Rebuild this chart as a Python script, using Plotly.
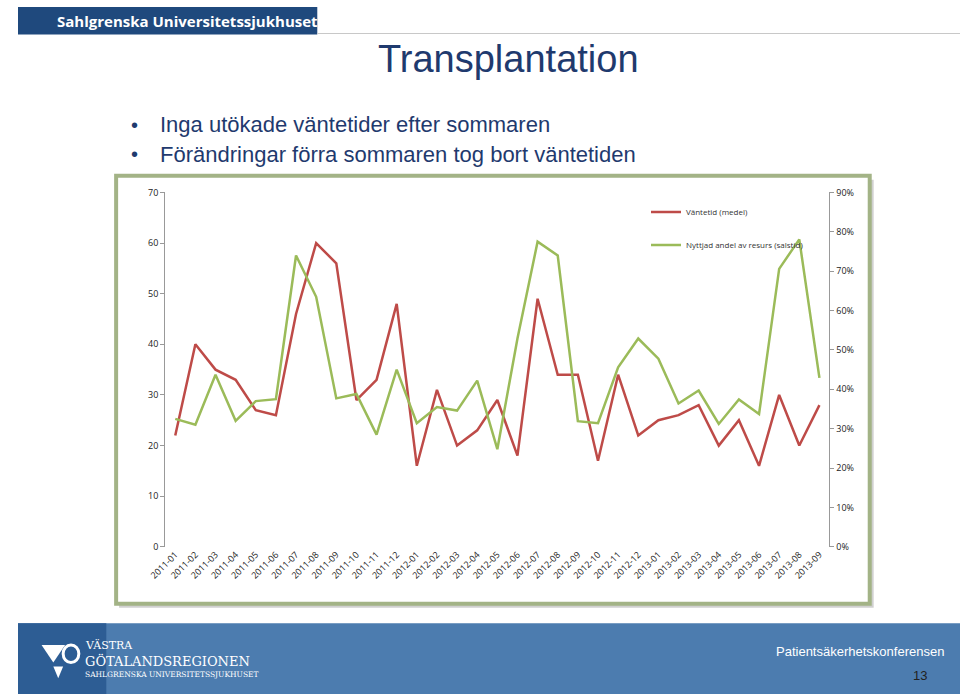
import plotly.graph_objects as go

W, H = 960, 700

months = ["2011-01", "2011-02", "2011-03", "2011-04", "2011-05", "2011-06", "2011-07", "2011-08",
          "2011-09", "2011-10", "2011-11", "2011-12", "2012-01", "2012-02", "2012-03", "2012-04",
          "2012-05", "2012-06", "2012-07", "2012-08", "2012-09", "2012-10", "2012-11", "2012-12",
          "2013-01", "2013-02", "2013-03", "2013-04", "2013-05", "2013-06", "2013-07", "2013-08",
          "2013-09"]
# mean waiting time (left axis)
wait_time = [22, 40, 35, 33, 27, 26, 46, 60, 56, 29, 33, 48, 16, 31, 20, 23, 29, 18,
             49, 34, 34, 17, 34, 22, 25, 26, 28, 20, 25, 16, 30, 20, 28]
# used share of theatre time, % (right axis)
used_share = [32.5, 31, 43.7, 32, 37, 37.5, 74, 63.5, 37.7, 38.8, 28.5, 45, 31.4, 35.5, 34.6,
              42.2, 24.8, 52.9, 77.5, 74, 31.9, 31.4, 45.6, 52.9, 47.8, 36.4, 39.7, 31.2,
              37.4, 33.7, 70.6, 78.1, 42.9]

title = "Transplantation"
bullets = ["Inga utökade väntetider efter sommaren", "Förändringar förra sommaren tog bort väntetiden"]

NAVY = "#1F3A6E"
RED = "#BE4B48"
GREEN = "#9BBB59"


def px_x(x):
    return x / W


def px_y(y):
    return 1 - y / H


fig = go.Figure()
fig.add_trace(go.Scatter(x=months, y=wait_time, mode="lines", name="Väntetid (medel)",
                         line=dict(color=RED, width=2.5), legendgroup="a"))
fig.add_trace(go.Scatter(x=months, y=used_share, mode="lines", name="Nyttjad andel av resurs (salstid)",
                         line=dict(color=GREEN, width=2.5), yaxis="y2", legendgroup="b"))

axis_font = dict(family="Open Sans, Liberation Sans", size=9, color="#222")
fig.update_layout(
    autosize=True, margin=dict(l=0, r=0, t=0, b=0),
    paper_bgcolor="white", plot_bgcolor="rgba(0,0,0,0)",
    xaxis=dict(domain=[px_x(150), px_x(827)], type="category", range=[-0.5, 32.5],
               tickangle=-45, tickfont=axis_font, showgrid=False, showline=False, ticks=""),
    yaxis=dict(domain=[px_y(550), px_y(189)], range=[0, 70], dtick=10, tickfont=axis_font,
               showgrid=False, showline=True, linecolor="#999", ticks="outside", ticklen=4,
               tickcolor="#999", zeroline=False),
    yaxis2=dict(overlaying="y", side="right", range=[0, 90], dtick=10, ticksuffix="%",
                tickfont=axis_font, showgrid=False, showline=True, linecolor="#999",
                ticks="outside", ticklen=4, tickcolor="#999", zeroline=False),
    legend=dict(x=px_x(640), y=px_y(194), xanchor="left", yanchor="top", tracegroupgap=14,
                font=dict(family="Open Sans, Liberation Sans", size=8, color="#333"),
                bgcolor="rgba(0,0,0,0)"),
    showlegend=True,
)

shapes = [
    # chart frame shadow + frame
    dict(type="rect", xref="paper", yref="paper", x0=px_x(103), x1=px_x(872), y0=px_y(612), y1=px_y(176),
         fillcolor="#d0d0d0", line_width=0, layer="below"),
    dict(type="rect", xref="paper", yref="paper", x0=px_x(100), x1=px_x(868), y0=px_y(608), y1=px_y(172),
         fillcolor="white", line=dict(color="#A3B386", width=4), layer="below"),
    # header bar
    dict(type="rect", xref="paper", yref="paper", x0=0, x1=px_x(305), y0=px_y(28), y1=1,
         fillcolor="#1F497D", line_width=0),
    dict(type="line", xref="paper", yref="paper", x0=px_x(305), x1=1, y0=px_y(27), y1=px_y(27),
         line=dict(color="#c8c8c8", width=1)),
    # footer bar
    dict(type="rect", xref="paper", yref="paper", x0=0, x1=1, y0=0, y1=px_y(628),
         fillcolor="#4C7CAF", line_width=0),
    dict(type="rect", xref="paper", yref="paper", x0=0, x1=px_x(90), y0=0, y1=px_y(628),
         fillcolor="#2D5D94", line_width=0),
    dict(type="path", xref="paper", yref="paper",
         path=f"M {px_x(24)} {px_y(650)} L {px_x(48)} {px_y(650)} L {px_x(36)} {px_y(668)} Z",
         fillcolor="white", line_width=0),
    dict(type="path", xref="paper", yref="paper",
         path=f"M {px_x(36)} {px_y(672)} L {px_x(46)} {px_y(672)} L {px_x(41)} {px_y(684)} Z",
         fillcolor="white", line_width=0),
    dict(type="circle", xref="paper", yref="paper", x0=px_x(46), x1=px_x(62), y0=px_y(668), y1=px_y(650),
         line=dict(color="white", width=3)),
]
fig.update_layout(shapes=shapes)

ann = [
    dict(x=px_x(38), y=px_y(14), text="<b>Sahlgrenska Universitetssjukhuset</b>", xanchor="left",
         font=dict(family="Open Sans, Liberation Sans", size=15, color="white")),
    dict(x=px_x(500), y=px_y(53), text=title,
         font=dict(family="Liberation Sans, Arial", size=38, color=NAVY)),
    dict(x=px_x(858), y=px_y(657), text="Patientsäkerhetskonferensen", xanchor="center",
         font=dict(family="Liberation Sans, Arial", size=13, color="white")),
    dict(x=px_x(928), y=px_y(681), text="13",
         font=dict(family="Liberation Sans, Arial", size=13, color="#222")),
    dict(x=px_x(66), y=px_y(650), text="VÄSTRA", xanchor="left",
         font=dict(family="DejaVu Serif", size=11, color="white")),
    dict(x=px_x(66), y=px_y(666), text="GÖTALANDSREGIONEN", xanchor="left",
         font=dict(family="DejaVu Serif", size=13, color="white")),
    dict(x=px_x(66), y=px_y(680), text="SAHLGRENSKA UNIVERSITETSSJUKHUSET", xanchor="left",
         font=dict(family="DejaVu Serif", size=7.5, color="white")),
]
for i, b in enumerate(bullets):
    yy = 120 + 30 * i
    ann.append(dict(x=px_x(113), y=px_y(yy), text="•", xanchor="left",
                    font=dict(family="Liberation Sans, Arial", size=20, color=NAVY)))
    ann.append(dict(x=px_x(143), y=px_y(yy), text=b, xanchor="left",
                    font=dict(family="Liberation Sans, Arial", size=22, color=NAVY)))
for a in ann:
    a.setdefault("xref", "paper")
    a.setdefault("yref", "paper")
    a.setdefault("showarrow", False)
    a.setdefault("yanchor", "middle")
fig.update_layout(annotations=ann)

fig.write_html("out.html", default_width=f"{W}px", default_height=f"{H}px",
               config={"displayModeBar": False},
               post_script="document.body.style.margin='0';document.body.style.overflow='hidden';"
                           "window.dispatchEvent(new Event('resize'));")
